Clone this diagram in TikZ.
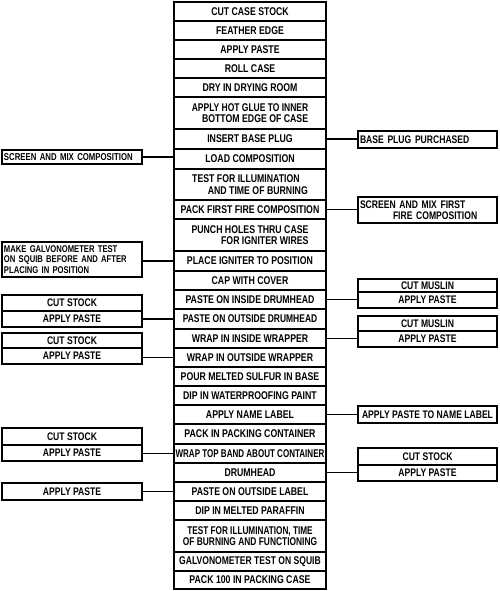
\documentclass[tikz,border=0pt]{standalone}
\usepackage{fontspec}
\newfontfamily\lbl{Liberation Sans}[FakeStretch=0.78]
\tikzset{
  box/.style={draw, line width=1.6pt, inner sep=1pt, align=center,
    font=\lbl\bfseries\fontsize{11.2}{11.6}\selectfont},
  mainbox/.style={box, minimum width=152pt},
  lbox/.style={box, minimum width=140pt, font=\lbl\bfseries\fontsize{11}{11.5}\selectfont},
  rbox/.style={box, minimum width=139pt, font=\lbl\bfseries\fontsize{11}{11.5}\selectfont},
  link/.style={line width=1.6pt},
}
\newcommand\mrow[5][]{\node[mainbox,minimum height={(#4-#3)*1pt},#1] (#2) at (250,{(#3+#4)/2}) {#5};}
\newcommand\lrow[5][]{\node[lbox,minimum height={(#4-#3)*1pt},#1] (#2) at (72,{(#3+#4)/2}) {#5};}
\newcommand\rrow[5][]{\node[rbox,minimum height={(#4-#3)*1pt},#1] (#2) at (427.5,{(#3+#4)/2}) {#5};}
\newcommand\sq[2]{\scalebox{#1}[1]{#2}}
\begin{document}
\begin{tikzpicture}[x=1pt,y=-1pt]
\useasboundingbox (0,0) rectangle (500,591);
% main column
\mrow{r1}{2}{21}{CUT CASE STOCK}
\mrow{r2}{21}{40}{FEATHER EDGE}
\mrow{r3}{40}{59}{APPLY PASTE}
\mrow{r4}{59}{78}{ROLL CASE}
\mrow{r5}{78}{97}{DRY IN DRYING ROOM}
\mrow[align=right]{r6}{97}{129}{\sq{0.97}{APPLY HOT GLUE TO INNER}\\BOTTOM EDGE OF CASE}
\mrow{r7}{129}{149}{INSERT BASE PLUG}
\mrow{r8}{149}{169}{LOAD COMPOSITION}
\mrow[align=left]{r9}{169}{200}{TEST FOR ILLUMINATION\\\hspace*{1.4em}AND TIME OF BURNING}
\mrow{r10}{200}{219}{PACK FIRST FIRE COMPOSITION}
\mrow[align=right]{r11}{219}{251}{PUNCH HOLES THRU CASE\\FOR IGNITER WIRES}
\mrow{r12}{251}{271}{PLACE IGNITER TO POSITION}
\mrow{r13}{271}{290}{CAP WITH COVER}
\mrow{r14}{290}{309}{PASTE ON INSIDE DRUMHEAD}
\mrow{r15}{309}{329}{\sq{0.97}{PASTE ON OUTSIDE DRUMHEAD}}
\mrow{r16}{329}{348}{WRAP IN INSIDE WRAPPER}
\mrow{r17}{348}{367}{WRAP IN OUTSIDE WRAPPER}
\mrow{r18}{367}{386}{POUR MELTED SULFUR IN BASE}
\mrow{r19}{386}{405}{DIP IN WATERPROOFING PAINT}
\mrow{r20}{405}{424}{APPLY NAME LABEL}
\mrow{r21}{424}{444}{PACK IN PACKING CONTAINER}
\mrow{r22}{444}{463}{\sq{0.92}{WRAP TOP BAND ABOUT CONTAINER}}
\mrow{r23}{463}{482}{DRUMHEAD}
\mrow{r24}{482}{501}{PASTE ON OUTSIDE LABEL}
\mrow{r25}{501}{520}{DIP IN MELTED PARAFFIN}
\mrow{r26}{520}{552}{\sq{0.94}{TEST FOR ILLUMINATION, TIME}\\\sq{0.96}{OF BURNING AND FUNCTIONING}}
\mrow{r27}{552}{571}{\sq{0.98}{GALVONOMETER TEST ON SQUIB}}
\mrow{r28}{571}{589}{PACK 100 IN PACKING CASE}
% left boxes
\lrow[align=left,text width=136pt,font=\lbl\bfseries\fontsize{10}{10.5}\selectfont]{L1}{150}{164}{SCREEN AND MIX COMPOSITION}
\lrow[align=left,text width=136pt,font=\lbl\bfseries\fontsize{9.8}{10.6}\selectfont]{L2}{242}{277}{MAKE GALVONOMETER TEST\\ON SQUIB BEFORE AND AFTER\\PLACING IN POSITION}
\lrow{L3a}{295}{311}{CUT STOCK}
\lrow{L3b}{311}{327}{APPLY PASTE}
\lrow{L4a}{333}{348}{CUT STOCK}
\lrow{L4b}{348}{364}{APPLY PASTE}
\lrow{L5a}{428}{445}{CUT STOCK}
\lrow{L5b}{445}{461}{APPLY PASTE}
\lrow{L6}{483}{500}{APPLY PASTE}
% right boxes
\rrow[align=left,text width=135pt]{R1}{131}{148}{BASE PLUG PURCHASED}
\rrow[align=left,text width=135pt]{R2}{197}{223}{SCREEN AND MIX FIRST\\\hspace*{3em}FIRE COMPOSITION}
\rrow{R3a}{279}{292}{CUT MUSLIN}
\rrow{R3b}{292}{308}{APPLY PASTE}
\rrow{R4a}{316}{331}{CUT MUSLIN}
\rrow{R4b}{331}{347}{APPLY PASTE}
\rrow{R5}{406}{423}{APPLY PASTE TO NAME LABEL}
\rrow{R6a}{448}{465}{CUT STOCK}
\rrow{R6b}{465}{481}{APPLY PASTE}
% connectors
\draw[link] (L1.east) -- (L1.east -| r8.west);
\draw[link] (r12.west) -- (r12.west -| L2.east);
\draw[link] (r15.west) -- (r15.west -| L3b.east);
\draw[link] (r17.west) -- (r17.west -| L4b.east);
\draw[link] (r22.west) -- (r22.west -| L5b.east);
\draw[link] (r24.west) -- (r24.west -| L6.east);
\draw[link] (r7.east) -- (r7.east -| R1.west);
\draw[link] (r10.east) -- (r10.east -| R2.west);
\draw[link] (r14.east) -- (r14.east -| R3b.west);
\draw[link] (r16.east) -- (r16.east -| R4b.west);
\draw[link] (r20.east) -- (r20.east -| R5.west);
\draw[link] (r23.east) -- (r23.east -| R6b.west);
\end{tikzpicture}
\end{document}
